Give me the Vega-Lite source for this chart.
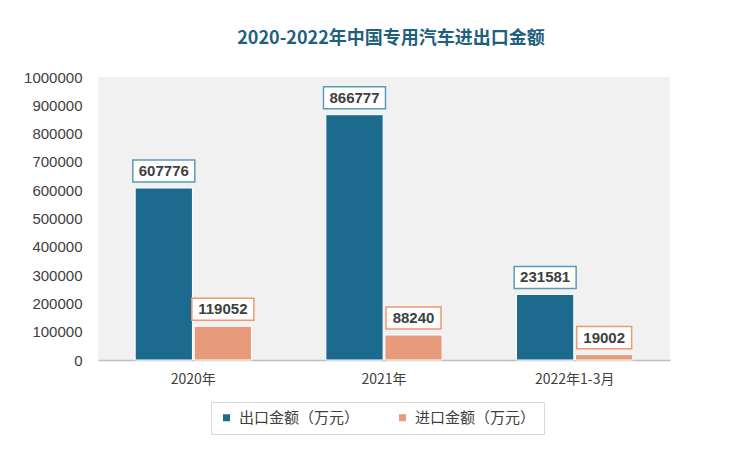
{
  "$schema": "https://vega.github.io/schema/vega-lite/v6.json",
  "autosize": {"type": "none"},
  "width": 572,
  "height": 283,
  "padding": {"left": 98, "top": 77, "right": 80, "bottom": 101},
  "background": "white",
  "title": {
    "text": "2020-2022年中国专用汽车进出口金额",
    "font": "Noto Sans CJK SC",
    "fontSize": 18,
    "fontWeight": "bold",
    "color": "#1f5f80",
    "anchor": "middle",
    "dx": 7,
    "offset": 22
  },
  "config": {
    "view": {"fill": "#f1f1f1", "stroke": null}
  },
  "data": {
    "values": [
      {"period": "2020年", "series": "出口金额（万元）", "value": 607776},
      {"period": "2020年", "series": "进口金额（万元）", "value": 119052},
      {"period": "2021年", "series": "出口金额（万元）", "value": 866777},
      {"period": "2021年", "series": "进口金额（万元）", "value": 88240},
      {"period": "2022年1-3月", "series": "出口金额（万元）", "value": 231581},
      {"period": "2022年1-3月", "series": "进口金额（万元）", "value": 19002}
    ]
  },
  "transform": [
    {"calculate": "length(format(datum.value, 'd'))", "as": "len"}
  ],
  "encoding": {
    "x": {
      "field": "period",
      "type": "nominal",
      "sort": null,
      "scale": {"paddingInner": 0.39, "paddingOuter": 0.195},
      "axis": {
        "title": null,
        "labelAngle": 0,
        "labelFont": "Noto Sans CJK SC",
        "labelFontSize": 14,
        "labelColor": "#404040",
        "labelPadding": 12,
        "ticks": false,
        "domainColor": "#bfbfbf",
        "domainWidth": 1.5
      }
    },
    "xOffset": {
      "field": "series",
      "type": "nominal",
      "sort": ["出口金额（万元）", "进口金额（万元）"],
      "scale": {"paddingInner": 0.03}
    },
    "y": {
      "field": "value",
      "type": "quantitative",
      "scale": {"domain": [0, 1000000]},
      "axis": {
        "title": null,
        "values": [0, 100000, 200000, 300000, 400000, 500000, 600000, 700000, 800000, 900000, 1000000],
        "format": "d",
        "grid": false,
        "domain": false,
        "ticks": false,
        "labelPadding": 16,
        "labelFont": "Liberation Sans",
        "labelFontSize": 15,
        "labelColor": "#404040"
      }
    }
  },
  "layer": [
    {
      "mark": {"type": "bar", "stroke": "white", "strokeWidth": 1},
      "encoding": {
        "color": {
          "field": "series",
          "type": "nominal",
          "sort": ["出口金额（万元）", "进口金额（万元）"],
          "scale": {"range": ["#1c6a8e", "#e89b7a"]},
          "legend": {
            "title": null,
            "orient": "none",
            "legendX": 113,
            "legendY": 325,
            "direction": "horizontal",
            "strokeColor": "#d9d9d9",
            "padding": 8,
            "columnPadding": 35,
            "symbolType": "square",
            "symbolSize": 49,
            "symbolStrokeWidth": 0,
            "labelFont": "Noto Sans CJK SC",
            "labelFontSize": 15,
            "labelColor": "#404040",
            "labelOffset": 5
          }
        }
      }
    },
    {
      "mark": {"type": "point", "filled": true, "fill": "white", "strokeWidth": 1.5, "opacity": 1, "size": 3844, "yOffset": -17},
      "encoding": {
        "shape": {
          "field": "len",
          "type": "ordinal",
          "scale": {"domain": [5, 6], "range": ["M-0.887,-0.355L0.887,-0.355L0.887,0.355L-0.887,0.355Z", "M-1,-0.355L1,-0.355L1,0.355L-1,0.355Z"]},
          "legend": null
        },
        "stroke": {
          "field": "series",
          "type": "nominal",
          "sort": ["出口金额（万元）", "进口金额（万元）"],
          "scale": {"range": ["#5b9ab8", "#f0976f"]},
          "legend": null
        }
      }
    },
    {
      "mark": {"type": "text", "yOffset": -17, "font": "Liberation Sans", "fontSize": 15, "fontWeight": "bold", "color": "#404040", "baseline": "middle"},
      "encoding": {
        "text": {"field": "value", "type": "quantitative", "format": "d"}
      }
    }
  ]
}
